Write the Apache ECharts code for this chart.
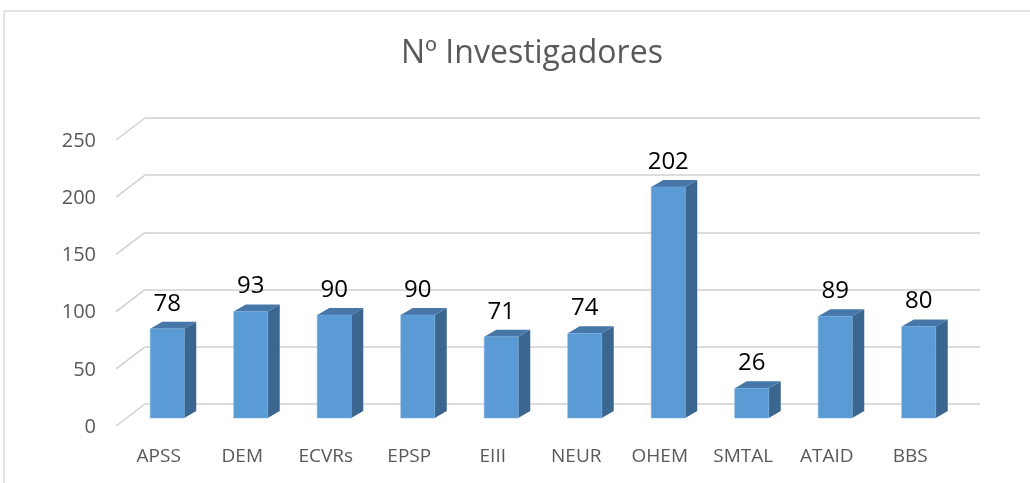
<!DOCTYPE html>
<html>
<head>
<meta charset="utf-8">
<script src="https://cdn.jsdelivr.net/npm/echarts@6/dist/echarts.min.js"></script>
<style>
  html, body { margin: 0; padding: 0; background: #fff; }
  #chart { width: 1030px; height: 483px; }
</style>
</head>
<body>
<div id="chart"></div>
<script>
const titleText = 'Nº Investigadores';
const categories = ['APSS', 'DEM', 'ECVRs', 'EPSP', 'EIII', 'NEUR', 'OHEM', 'SMTAL', 'ATAID', 'BBS'];
const values = [78, 93, 90, 90, 71, 74, 202, 26, 89, 80];
const yTicks = [0, 50, 100, 150, 200, 250];

// fake 3D: depth offsets in pixels
const wallDx = 29, wallDy = 22;   // back wall -> front edge
const barShiftX = -19.5, barShiftY = 14; // back wall -> bar front face
const barHalf = 17, depthX = 12, depthY = 7;

const chart = echarts.init(document.getElementById('chart'));

function renderBar(params, api) {
  const idx = api.value(0);
  const val = api.value(1);
  const top = api.coord([idx, val]);
  const base = api.coord([idx, 0]);
  const cx = top[0] + barShiftX;
  const yTop = top[1] + barShiftY;
  const yBase = base[1] + barShiftY;
  const l = cx - barHalf, r = cx + barHalf;
  return {
    type: 'group',
    children: [
      {
        type: 'polygon',
        shape: { points: [[r, yTop], [r + depthX, yTop - depthY], [r + depthX, yBase - depthY], [r, yBase]] },
        style: { fill: '#3b6690' }
      },
      {
        type: 'polygon',
        shape: { points: [[l, yTop], [l + depthX, yTop - depthY], [r + depthX, yTop - depthY], [r, yTop]] },
        style: { fill: '#4677a8' }
      },
      {
        type: 'rect',
        shape: { x: l, y: yTop, width: barHalf * 2, height: yBase - yTop },
        style: { fill: '#5b9bd5', stroke: '#6fa8dc', lineWidth: 0.5 }
      },
      {
        type: 'text',
        x: cx, y: yTop - 25,
        style: { text: String(val), fill: '#000', font: '24px "Open Sans"', align: 'center', verticalAlign: 'middle' }
      },
      {
        type: 'text',
        x: base[0] - wallDx + 1, y: 457,
        style: { text: categories[idx], fill: '#595959', font: '19px "Open Sans"', align: 'center', verticalAlign: 'middle' }
      }
    ]
  };
}

function renderWall(params, api) {
  const v = api.value(0);
  const p = api.coord([0, v]);
  const x = params.coordSys.x;
  return {
    type: 'group',
    children: [
      {
        type: 'line',
        shape: { x1: x, y1: p[1], x2: x - wallDx, y2: p[1] + wallDy },
        style: { stroke: '#d0d0d0', lineWidth: 1.5 }
      },
      {
        type: 'text',
        x: x - wallDx - 20, y: p[1] + wallDy + 1,
        style: { text: String(v), fill: '#595959', font: '20px "Open Sans"', align: 'right', verticalAlign: 'middle' }
      }
    ]
  };
}

const option = {
  animation: false,
  title: {
    text: titleText,
    left: 396,
    top: 33,
    textStyle: { fontFamily: 'Open Sans', fontSize: 32, fontWeight: 'normal', color: '#595959' }
  },
  graphic: [
    {
      type: 'polyline',
      shape: { points: [[4, 483], [4, 11], [1030, 11]] },
      style: { stroke: '#c8c8c8', lineWidth: 1, fill: null }
    }
  ],
  grid: { left: 145, right: 50, top: 118, bottom: 79 },
  xAxis: {
    type: 'category',
    data: categories,
    axisLine: { show: false },
    axisTick: { show: false },
    axisLabel: { show: false }
  },
  yAxis: {
    type: 'value',
    min: 0,
    max: 250,
    interval: 50,
    axisLine: { show: false },
    axisTick: { show: false },
    axisLabel: { show: false },
    splitLine: { lineStyle: { color: '#d0d0d0', width: 1.5 } }
  },
  series: [
    {
      type: 'custom',
      renderItem: renderWall,
      data: yTicks.map(v => [v]),
      encode: { y: 0 },
      clip: false,
      z: 1
    },
    {
      type: 'custom',
      renderItem: renderBar,
      data: values.map((v, i) => [i, v]),
      encode: { x: 0, y: 1 },
      clip: false,
      z: 2
    }
  ]
};

chart.setOption(option);
window.addEventListener('resize', function () {
  chart.resize();
});
</script>
</body>
</html>
